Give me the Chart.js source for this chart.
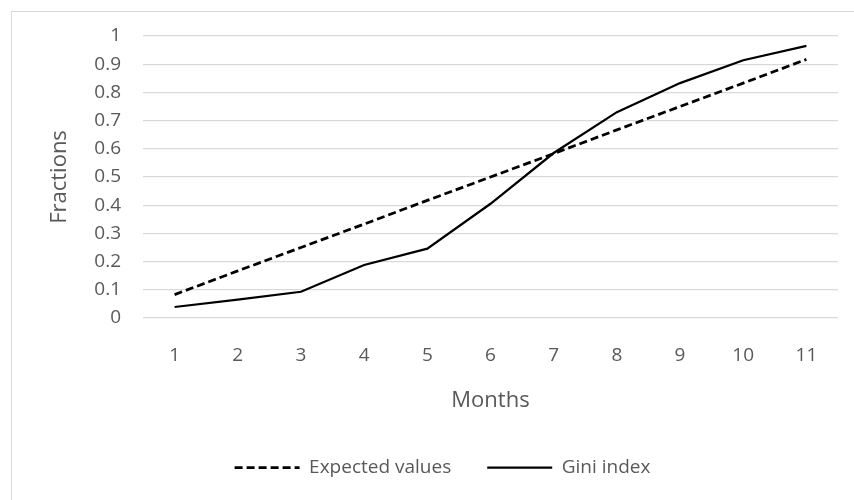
<!DOCTYPE html>
<html>
<head>
<meta charset="utf-8">
<script src="https://cdn.jsdelivr.net/npm/chart.js@4"></script>
<style>
  html, body { margin: 0; padding: 0; background: #fff; }
  #wrap { width: 854px; height: 500px; }
</style>
</head>
<body>
<div id="wrap"><canvas id="giniChart" width="854" height="500"></canvas></div>
<script>
// dados
const months = ['1', '2', '3', '4', '5', '6', '7', '8', '9', '10', '11'];
const expectedValues = [0.083, 0.167, 0.25, 0.333, 0.417, 0.5, 0.583, 0.667, 0.75, 0.833, 0.917];
const giniIndex = [0.039, 0.065, 0.093, 0.188, 0.246, 0.405, 0.585, 0.73, 0.833, 0.914, 0.965];

const fontFamily = "'Open Sans', 'Liberation Sans', sans-serif";
const textColor = '#595959';
const gridColor = '#d9d9d9';

// moldura cinza do gráfico (como no Excel)
const framePlugin = {
    id: 'frame',
    beforeDraw(chart) {
        const ctx = chart.ctx;
        ctx.save();
        ctx.fillStyle = '#fff';
        ctx.fillRect(0, 0, chart.width, chart.height);
        ctx.strokeStyle = gridColor;
        ctx.lineWidth = 1;
        ctx.strokeRect(11.5, 11.5, chart.width, chart.height);
        ctx.restore();
    }
};

const ctx = document.getElementById('giniChart').getContext('2d');
new Chart(ctx, {
    type: 'line',
    data: {
        labels: months,
        datasets: [{
            label: 'Expected values',
            data: expectedValues,
            borderColor: '#000',
            backgroundColor: '#000',
            borderWidth: 2.75,
            borderDash: [8, 4],
            pointRadius: 0,
            tension: 0,
            pointStyle: 'line'
        }, {
            label: 'Gini index',
            data: giniIndex,
            borderColor: '#000',
            backgroundColor: '#000',
            borderWidth: 2.25,
            pointRadius: 0,
            tension: 0,
            pointStyle: 'line'
        }]
    },
    options: {
        responsive: false,
        animation: false,
        layout: { padding: { left: 47, right: 16, top: 36, bottom: 13 } },
        plugins: {
            tooltip: { enabled: false },
            legend: {
                position: 'bottom',
                labels: {
                    usePointStyle: true,
                    pointStyleWidth: 65,
                    boxWidth: 65,
                    padding: 36,
                    color: textColor,
                    font: { family: fontFamily, size: 19 },
                    // o tracejado da série não passa para a legenda sozinho
                    generateLabels(chart) {
                        const items = Chart.defaults.plugins.legend.labels.generateLabels(chart);
                        items.forEach(item => {
                            const ds = chart.data.datasets[item.datasetIndex];
                            item.lineDash = ds.borderDash || [];
                            item.lineWidth = ds.borderWidth;
                        });
                        return items;
                    }
                }
            }
        },
        scales: {
            x: {
                offset: true,
                grid: { display: false, drawTicks: false },
                border: { display: false },
                ticks: { color: textColor, padding: 26, font: { family: fontFamily, size: 19 } },
                title: { display: true, text: 'Months', color: textColor, padding: { top: 0, bottom: 8 }, font: { family: fontFamily, size: 22 } },
                afterFit(scale) { scale.height = 104; }
            },
            y: {
                min: 0,
                max: 1,
                ticks: {
                    stepSize: 0.1,
                    color: textColor,
                    padding: 22,
                    font: { family: fontFamily, size: 19 },
                    callback: (v) => String(Number(v.toFixed(1)))
                },
                grid: { color: gridColor, lineWidth: 1.3, drawTicks: false },
                border: { display: false },
                title: { display: true, text: 'Fractions', color: textColor, padding: { top: 0, bottom: 0 }, font: { family: fontFamily, size: 22 } },
                afterFit(scale) { scale.width = 96; }
            }
        }
    },
    plugins: [framePlugin]
});
</script>
</body>
</html>
